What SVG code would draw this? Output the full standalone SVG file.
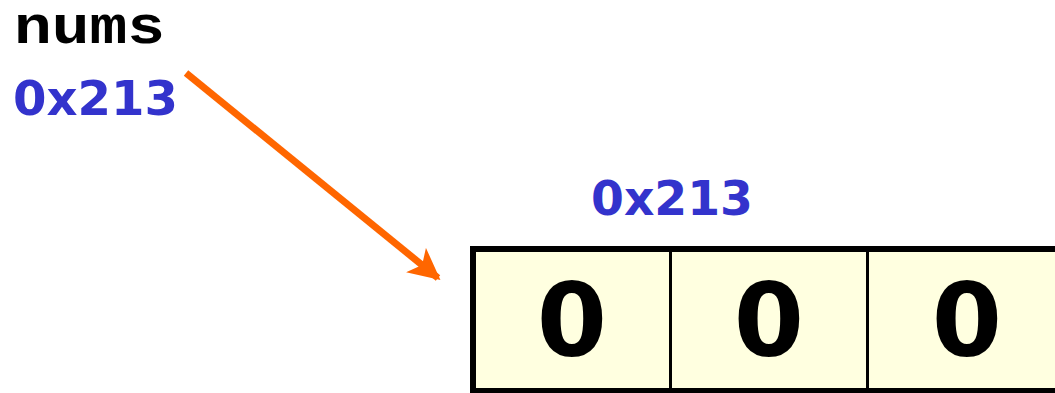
<svg xmlns="http://www.w3.org/2000/svg" width="1055" height="393" viewBox="0 0 1055 393">
<style>
.addr{font-family:"DejaVu Sans",Verdana,sans-serif;font-weight:bold;font-size:48px;fill:#3333CC}
.val{font-family:"DejaVu Sans",Verdana,sans-serif;font-weight:bold;font-size:101px;fill:#000;text-anchor:middle}
.var{font-family:"Liberation Mono","Courier New",monospace;font-weight:bold;font-size:54px;fill:#000}
.cell{fill:#FFFFE0;stroke:none}
</style>
<defs>
<marker id="ah" viewBox="0 0 10 10" refX="9" refY="5" markerWidth="4.5" markerHeight="4.5" orient="auto" markerUnits="strokeWidth">
<path d="M0,0 L10,5 L0,10 L2.5,5 Z" fill="#FF6600"/>
</marker>
</defs>
<rect width="1055" height="393" fill="#fff"/>
<g id="var-nums">
<text class="var" x="14" y="43" textLength="151" lengthAdjust="spacingAndGlyphs">nums</text>
<text class="addr" x="13" y="115" textLength="165" lengthAdjust="spacingAndGlyphs">0x213</text>
</g>
<g id="array">
<text class="addr" x="591" y="215" textLength="162" lengthAdjust="spacingAndGlyphs">0x213</text>
<rect class="cell" x="473" y="249" width="600" height="142"/>
<line x1="670.5" y1="249" x2="670.5" y2="391" stroke="#000" stroke-width="3"/>
<line x1="867.5" y1="249" x2="867.5" y2="391" stroke="#000" stroke-width="3"/>
<rect x="473" y="249" width="600" height="142" fill="none" stroke="#000" stroke-width="6"/>
<text class="val" x="572" y="356">0</text>
<text class="val" x="769" y="356">0</text>
<text class="val" x="967" y="356">0</text>
</g>
<g id="connectors">
<line x1="186" y1="73" x2="438" y2="278" stroke="#FF6600" stroke-width="7" marker-end="url(#ah)"/>
</g>
</svg>
